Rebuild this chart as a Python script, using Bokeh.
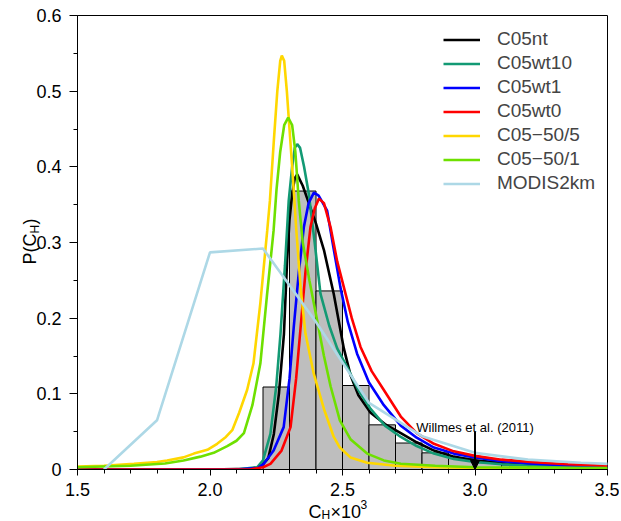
import math
from bokeh.plotting import figure
from bokeh.core.properties import value
from bokeh.models import (FixedTicker, CustomJSTickFormatter, Label, Arrow, NormalHead,
                          Legend, LegendItem)
from bokeh.embed import file_html
from bokeh.resources import INLINE

# ---------------- data ----------------
x_ticks = [1.5, 2.0, 2.5, 3.0, 3.5]
x_minor = [1.6, 1.7, 1.8, 1.9, 2.1, 2.2, 2.3, 2.4, 2.6, 2.7, 2.8, 2.9, 3.1, 3.2, 3.3, 3.4]
y_ticks = [0, 0.1, 0.2, 0.3, 0.4, 0.5, 0.6]
y_minor = [0.05, 0.15, 0.25, 0.35, 0.45, 0.55]

hist_edges = [2.2, 2.3, 2.4, 2.5, 2.6, 2.7, 2.8, 2.9, 3.0, 3.1, 3.2, 3.3, 3.4, 3.5]
hist_p = [0.109, 0.368, 0.236, 0.111, 0.059, 0.035, 0.022, 0.015, 0.009, 0.006, 0.004, 0.003, 0.002]

nt_x = [1.5, 2.0, 2.15, 2.19, 2.22, 2.241, 2.26, 2.279, 2.291, 2.30, 2.31, 2.32, 2.329, 2.35, 2.37,
        2.40, 2.43, 2.467, 2.505, 2.53, 2.56, 2.606, 2.66, 2.72, 2.78, 2.845, 2.92, 3.0, 3.1, 3.22, 3.35, 3.5]
nt_y = [0.0, 0.0, 0.001, 0.003, 0.015, 0.047, 0.10, 0.179, 0.276, 0.33, 0.364, 0.385, 0.390, 0.375, 0.355,
        0.325, 0.29, 0.232, 0.16, 0.125, 0.098, 0.075, 0.06, 0.048, 0.036, 0.025, 0.017, 0.012, 0.009, 0.0066, 0.0045, 0.003]

wt10_x = [1.5, 2.1, 2.178, 2.20, 2.228, 2.25, 2.266, 2.283, 2.297, 2.31, 2.32, 2.329, 2.34, 2.355, 2.373,
          2.395, 2.417, 2.45, 2.48, 2.518, 2.56, 2.606, 2.66, 2.72, 2.78, 2.845, 2.92, 3.0, 3.1, 3.22, 3.35, 3.5]
wt10_y = [0.0, 0.0, 0.003, 0.012, 0.047, 0.11, 0.179, 0.27, 0.355, 0.40, 0.425, 0.430, 0.425, 0.40, 0.364,
          0.30, 0.232, 0.19, 0.16, 0.135, 0.105, 0.08, 0.058, 0.043, 0.031, 0.021, 0.014, 0.010, 0.007, 0.005, 0.004, 0.003]

wt1_x = [1.5, 2.1, 2.18, 2.203, 2.24, 2.278, 2.30, 2.316, 2.335, 2.354, 2.372, 2.392, 2.41, 2.442, 2.465,
         2.492, 2.52, 2.555, 2.60, 2.656, 2.72, 2.78, 2.845, 2.92, 3.0, 3.1, 3.22, 3.35, 3.5]
wt1_y = [0.0, 0.0, 0.002, 0.0075, 0.025, 0.056, 0.12, 0.188, 0.26, 0.32, 0.352, 0.366, 0.362, 0.342, 0.295,
         0.241, 0.195, 0.153, 0.115, 0.085, 0.058, 0.042, 0.029, 0.021, 0.016, 0.011, 0.0075, 0.0055, 0.004]

wt0_x = [1.5, 2.15, 2.20, 2.228, 2.27, 2.304, 2.325, 2.342, 2.36, 2.379, 2.395, 2.411, 2.43, 2.455, 2.48,
         2.505, 2.535, 2.568, 2.61, 2.656, 2.72, 2.78, 2.845, 2.92, 3.0, 3.1, 3.22, 3.35, 3.5]
wt0_y = [0.0, 0.0, 0.003, 0.0075, 0.025, 0.056, 0.12, 0.188, 0.26, 0.32, 0.345, 0.358, 0.352, 0.32, 0.275,
         0.241, 0.20, 0.162, 0.13, 0.105, 0.070, 0.048, 0.034, 0.024, 0.018, 0.013, 0.0097, 0.007, 0.005]

c50_5_x = [1.5, 1.6, 1.713, 1.8, 1.838, 1.9, 1.939, 1.99, 2.027, 2.06, 2.084, 2.11, 2.14, 2.164, 2.19,
           2.216, 2.226, 2.241, 2.254, 2.265, 2.271, 2.28, 2.29, 2.30, 2.312, 2.325, 2.342, 2.36, 2.392,
           2.43, 2.467, 2.49, 2.53, 2.593, 2.7, 2.85, 3.0, 3.5]
c50_5_y = [0.004, 0.005, 0.0075, 0.010, 0.012, 0.016, 0.021, 0.026, 0.034, 0.043, 0.052, 0.075, 0.105, 0.14, 0.22,
           0.316, 0.355, 0.435, 0.50, 0.54, 0.547, 0.54, 0.50, 0.45, 0.39, 0.32, 0.24, 0.18, 0.126,
           0.08, 0.043, 0.029, 0.016, 0.009, 0.005, 0.003, 0.002, 0.001]

c50_1_x = [1.5, 1.6, 1.7, 1.83, 1.9, 1.964, 2.014, 2.065, 2.10, 2.128, 2.16, 2.19, 2.215, 2.24, 2.251,
           2.265, 2.28, 2.295, 2.31, 2.322, 2.335, 2.35, 2.375, 2.40, 2.43, 2.455, 2.49, 2.53, 2.593,
           2.656, 2.72, 2.85, 3.0, 3.5]
c50_1_y = [0.003, 0.004, 0.005, 0.008, 0.012, 0.017, 0.022, 0.031, 0.038, 0.048, 0.085, 0.14, 0.23, 0.316, 0.37,
           0.42, 0.455, 0.465, 0.455, 0.42, 0.355, 0.30, 0.25, 0.205, 0.15, 0.11, 0.065, 0.04, 0.021,
           0.012, 0.0075, 0.005, 0.003, 0.002]

modis_x = [1.6, 1.8, 2.0, 2.2, 2.4, 2.6, 2.8, 3.0, 3.2, 3.4, 3.6]
modis_y = [0.0, 0.065, 0.287, 0.292, 0.195, 0.088, 0.044, 0.022, 0.013, 0.009, 0.006]

willmes_x = 3.0
willmes_top = 0.05
willmes_text = "Willmes et al. (2011)"

series = [
    ("C05nt", nt_x, nt_y, "#000000"),
    ("C05wt10", wt10_x, wt10_y, "#139a74"),
    ("C05wt1", wt1_x, wt1_y, "#0000ff"),
    ("C05wt0", wt0_x, wt0_y, "#ff0000"),
    ("C05\u221250/5", c50_5_x, c50_5_y, "#ffd700"),
    ("C05\u221250/1", c50_1_x, c50_1_y, "#6ee000"),
    ("MODIS2km", modis_x, modis_y, "#add8e6"),
]

FONT = "Liberation Sans"

# ---------------- figure ----------------
p = figure(frame_width=530, frame_height=454, x_range=(1.5, 3.5), y_range=(0, 0.6),
           output_backend="svg", toolbar_location=None,
           min_border_left=77, min_border_right=12, min_border_top=15, min_border_bottom=51)
p.grid.visible = False
p.outline_line_color = "black"
p.outline_line_width = 1
p.background_fill_color = "white"
p.border_fill_color = "white"

for ax in (p.xaxis[0], p.yaxis[0]):
    ax.axis_line_color = "black"
    ax.major_tick_line_color = "black"
    ax.minor_tick_line_color = "black"
    ax.major_tick_in = 0
    ax.minor_tick_in = 0
    ax.minor_tick_out = 4
    ax.major_label_text_font = FONT
    ax.major_label_text_font_size = "18px"
    ax.major_label_text_color = "black"

p.xaxis.ticker = FixedTicker(ticks=x_ticks, minor_ticks=x_minor)
p.yaxis.ticker = FixedTicker(ticks=y_ticks, minor_ticks=y_minor)
p.xaxis.major_tick_out = 6
p.yaxis.major_tick_out = 8
p.xaxis.major_label_standoff = 7
p.yaxis.major_label_standoff = 8
p.xaxis.formatter = CustomJSTickFormatter(code="return tick.toFixed(1);")
p.yaxis.formatter = CustomJSTickFormatter(code="return Math.abs(tick) < 1e-9 ? '0' : tick.toFixed(1);")

# histogram
p.quad(left=hist_edges[:-1], right=hist_edges[1:], bottom=0, top=hist_p,
       fill_color="#bebebe", line_color="black", line_width=1)

items = []
for name, xs, ys, col in series:
    r = p.line(xs, ys, line_color=col, line_width=2.6)
    items.append(LegendItem(label=name, renderers=[r]))

legend = Legend(items=items, location=(366, 275), glyph_width=37, glyph_height=21,
                label_height=21, spacing=2, label_standoff=17, padding=0, margin=0,
                border_line_alpha=0, background_fill_alpha=0,
                label_text_font=FONT, label_text_font_size="19px")
p.add_layout(legend)

# Willmes annotation
p.add_layout(Arrow(end=NormalHead(size=9, fill_color="black", line_color="black"),
                   x_start=willmes_x, y_start=willmes_top, x_end=willmes_x, y_end=0,
                   line_color="black", line_width=2))
p.add_layout(Label(x=willmes_x, y=willmes_top, y_offset=4, text=willmes_text,
                   text_align="center", text_baseline="alphabetic",
                   text_font=FONT, text_font_size="13px", text_color="black"))

# axis labels with sub/superscripts: text pieces at overlay level (not clipped),
# offset in pixels from the frame's bottom-left corner (x_range start, y_range start)
def piece(txt, xo, yo, fs, angle=0.0):
    p.text(x=[1.5], y=[0], text=[txt], angle=angle, x_offset=xo, y_offset=yo,
           text_font=value(FONT), text_font_size=value(fs), text_color="black",
           text_align="left", text_baseline="alphabetic", level="overlay")

# x label: C_H x 10^3
piece("C", 231, 42, "18px")
piece("H", 244, 45, "12px")
piece("\u00d710", 253, 42, "18px")
piece("3", 283, 35, "12px")

# y label: P(C_H), rotated
ang = math.pi / 2
piece("P(C", -48, -205, "18px", ang)
piece("H", -43, -236, "12px", ang)
piece(")", -48, -245, "18px", ang)

open("out.html", "w").write(file_html(p, INLINE))
